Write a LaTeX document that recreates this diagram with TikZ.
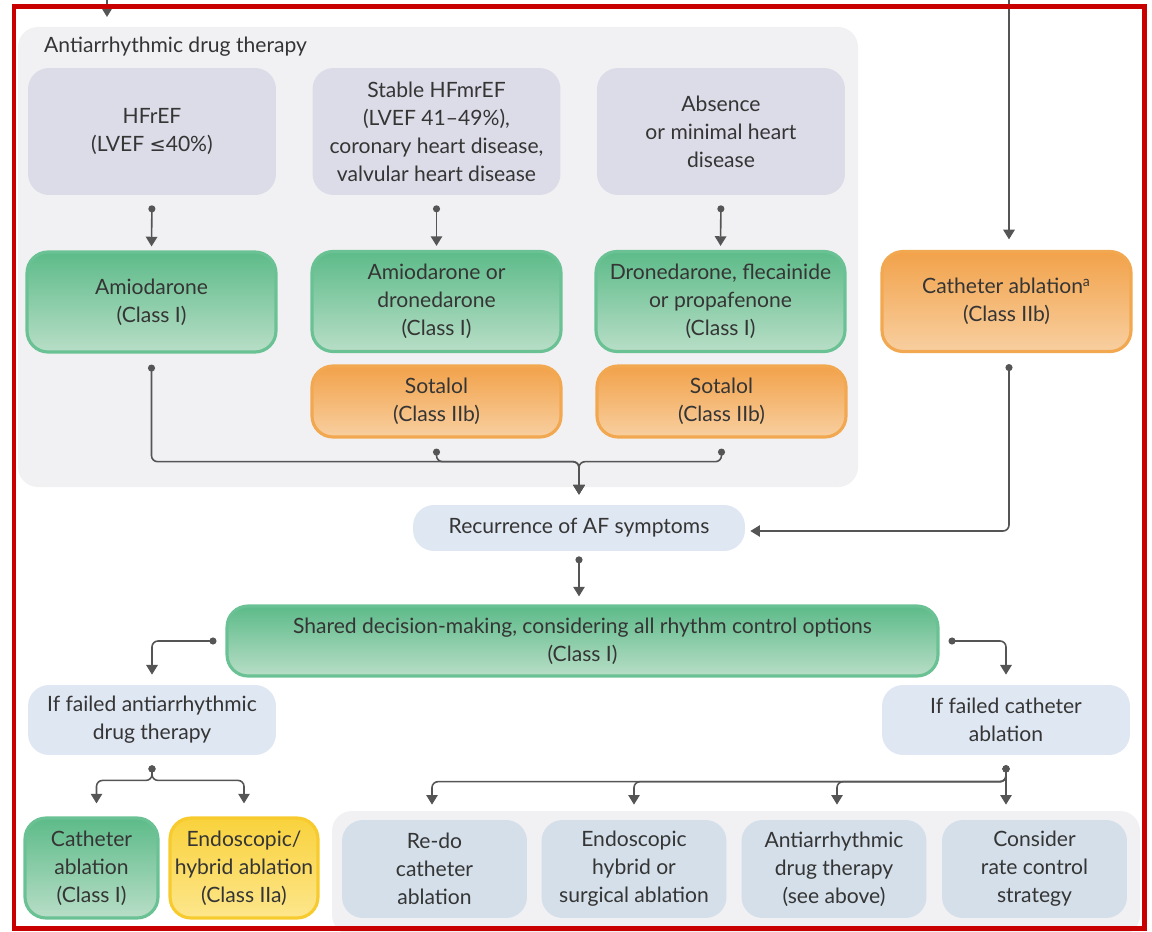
\documentclass[tikz,border=0pt]{standalone}
\usepackage{fontspec}
\setmainfont{Lato}
\newfontfamily\symfont{DejaVu Sans}
\usetikzlibrary{arrows.meta,calc}

\definecolor{txt}{HTML}{353535}
\definecolor{wire}{HTML}{555555}
\definecolor{panel}{HTML}{F1F1F3}
\definecolor{lav}{HTML}{DCDCE8}
\definecolor{pale}{HTML}{DFE7F3}
\definecolor{steel}{HTML}{D4DFEA}
\definecolor{grnTop}{HTML}{5DBB89}
\definecolor{grnBot}{HTML}{B8DEC7}
\definecolor{grnEdge}{HTML}{6AC294}
\definecolor{orTop}{HTML}{F2A24A}
\definecolor{orBot}{HTML}{F8CFA0}
\definecolor{orEdge}{HTML}{F2A850}
\definecolor{yeTop}{HTML}{F9D23C}
\definecolor{yeBot}{HTML}{FDE68C}
\definecolor{yeEdge}{HTML}{F7CB2E}
\definecolor{frame}{HTML}{C80000}

\begin{document}
\begin{tikzpicture}[x=0.02cm,y=-0.02cm,
  font=\fontsize{12}{16}\selectfont, text=txt,
  base/.style={align=center, inner sep=0pt, rounded corners=0.42cm},
  lavbox/.style={base, fill=lav, minimum width=4.96cm, minimum height=2.54cm},
  greenbox/.style={base, top color=grnTop, bottom color=grnBot, draw=grnEdge, line width=1.8pt},
  orangebox/.style={base, top color=orTop, bottom color=orBot, draw=orEdge, line width=1.8pt},
  yellowbox/.style={base, top color=yeTop, bottom color=yeBot, draw=yeEdge, line width=1.8pt},
  palebox/.style={base, fill=pale},
  steelbox/.style={base, fill=steel, minimum width=3.7cm, minimum height=1.96cm},
  wireline/.style={draw=wire, line width=0.9pt, rounded corners=0.12cm},
  arr/.style={wireline, -{Triangle[length=5.5pt,width=6.5pt]}},
  dotarr/.style={wireline, {Circle[length=4pt]}-{Triangle[length=5.5pt,width=6.5pt]}},
  dotline/.style={wireline, {Circle[length=4pt]}-}
]
\useasboundingbox (0,0) rectangle (1152,932);

% background panels
\fill[panel, rounded corners=0.4cm] (18,27) rectangle (858,487);
\fill[panel, rounded corners=0.4cm] (332,811) rectangle (1140,935);

\node[anchor=west] (title) at (38,47) {Antiarrhythmic drug therapy};

% patient groups
\node[lavbox] (hfref) at (152,131.5) {HFrEF\\(LVEF {\symfont\fontsize{11}{16}\selectfont ≤}40\%)};
\node[lavbox] (hfmr) at (436.5,131.5) {Stable HFmrEF\\(LVEF 41–49\%),\\coronary heart disease,\\valvular heart disease};
\node[lavbox] (absn) at (721,131.5) {Absence\\or minimal heart\\disease};

% drugs
\node[greenbox, minimum width=4.98cm, minimum height=2.0cm] (amio) at (151.5,302) {Amiodarone\\(Class I)};
\node[greenbox, minimum width=4.98cm, minimum height=2.0cm] (amdr) at (436.5,301.5) {Amiodarone or\\dronedarone\\(Class I)};
\node[greenbox, minimum width=4.98cm, minimum height=2.0cm] (drfl) at (720.5,301.5) {Dronedarone, flecainide\\or propafenone\\(Class I)};
\node[orangebox, minimum width=4.98cm, minimum height=1.42cm] (sot1) at (436.5,401.5) {Sotalol\\(Class IIb)};
\node[orangebox, minimum width=4.98cm, minimum height=1.42cm] (sot2) at (721.5,401.5) {Sotalol\\(Class IIb)};
\node[orangebox, minimum width=4.98cm, minimum height=2.0cm] (cath) at (1006.5,301.5) {Catheter ablation\textsuperscript{a}\\(Class IIb)};

% recurrence and decision
\node[palebox, minimum width=6.64cm, minimum height=0.92cm] (recur) at (579,528) {Recurrence of AF symptoms};
\node[greenbox, minimum width=14.22cm, minimum height=1.4cm] (shared) at (582.5,641) {Shared decision-making, considering all rhythm control options\\(Class I)};
\node[palebox, minimum width=4.96cm, minimum height=1.4cm] (ifaad) at (152,720) {If failed antiarrhythmic\\drug therapy};
\node[palebox, minimum width=4.96cm, minimum height=1.4cm] (ifca) at (1006,720) {If failed catheter\\ablation};

% options after failure
\node[greenbox, minimum width=2.66cm, minimum height=2.0cm] (cab) at (91.5,868) {Catheter\\ablation\\(Class I)};
\node[yellowbox, minimum width=2.96cm, minimum height=2.0cm] (endo) at (244,868) {Endoscopic/\\hybrid ablation\\(Class IIa)};
\node[steelbox] (redo) at (434.5,869) {Re-do\\catheter\\ablation};
\node[steelbox] (endh) at (634,869) {Endoscopic\\hybrid or\\surgical ablation};
\node[steelbox] (aad) at (834,869) {Antiarrhythmic\\drug therapy\\(see above)};
\node[steelbox] (rate) at (1034.5,869) {Consider\\rate control\\strategy};

% incoming connectors from above
\coordinate (tin) at (107,0);
\coordinate (tout) at (107,17);
\draw[arr] (tin) -- (tout);
\coordinate (cin) at (1009,0);
\draw[arr, shorten >=6pt] (cin) -- (cin |- cath.north);

% group -> drug
\draw[dotarr, shorten <=0.2cm, shorten >=0.08cm] (hfref.south) -- (amio.north);
\draw[dotarr, shorten <=0.2cm, shorten >=0.08cm] (hfmr.south) -- (amdr.north);
\draw[dotarr, shorten <=0.2cm, shorten >=0.08cm] (absn.south) -- (drfl.north);

% drugs merge into recurrence
\coordinate (J) at ($(recur.north)+(0,-43)$);
\draw[dotarr, shorten <=0.22cm, shorten >=0.2cm] (amio.south) |- (J) -- (recur.north);
\draw[dotarr, shorten <=0.2cm, shorten >=0.2cm] (sot1.south) |- (J) -- (recur.north);
\draw[dotarr, shorten <=0.2cm, shorten >=0.2cm] (sot2.south) |- (J) -- (recur.north);

% catheter ablation -> recurrence
\draw[dotarr, shorten <=0.22cm, shorten >=0.1cm] ($(cath.south)+(2.5,0)$) |- ($(recur.east)+(0,3)$);

% recurrence -> shared decision
\draw[dotarr, shorten <=0.1cm, shorten >=0.16cm] (recur.south) -- (recur.south |- shared.north);

% shared decision -> failure branches
\draw[dotarr, shorten <=0.18cm, shorten >=0.2cm] (shared.west) -| (ifaad.north);
\draw[dotarr, shorten <=0.18cm, shorten >=0.2cm] (shared.east) -| (ifca.north);

% failed drug therapy -> ablation options
\draw[dotarr, shorten <=0.2cm, shorten >=0.26cm] (ifaad.south) |- ($(cab.north)+(5,-36)$) -- ($(cab.north)+(5,0)$);
\draw[dotarr, shorten <=0.2cm, shorten >=0.26cm] (ifaad.south) |- ($(endo.north)+(0,-36)$) -- (endo.north);

% failed catheter ablation -> further options
\draw[dotarr, shorten <=0.2cm, shorten >=0.3cm] (ifca.south) |- ($(redo.north)+(-2.5,-38)$) -- ($(redo.north)+(-2.5,0)$);
\draw[dotarr, shorten <=0.2cm, shorten >=0.3cm] (ifca.south) |- ($(endh.north)+(0,-38)$) -- (endh.north);
\draw[dotarr, shorten <=0.2cm, shorten >=0.3cm] (ifca.south) |- ($(aad.north)+(3,-38)$) -- ($(aad.north)+(3,0)$);
\draw[dotarr, shorten <=0.2cm, shorten >=0.3cm] (ifca.south) -- (ifca.south |- rate.north);

% outer frame
\draw[frame, line width=0.1cm] (14,7) rectangle (1144,928);
\end{tikzpicture}
\end{document}
